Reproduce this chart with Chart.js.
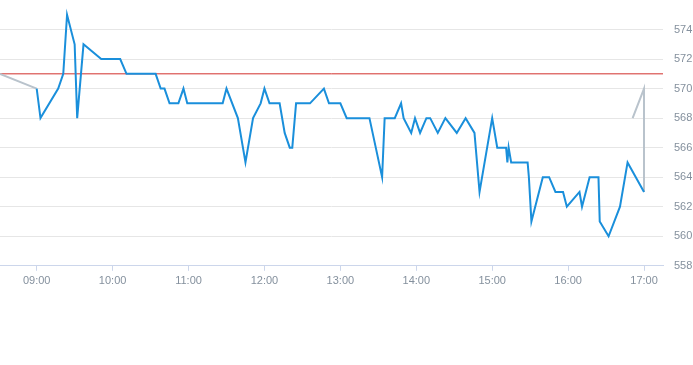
<!DOCTYPE html>
<html>
<head>
<meta charset="utf-8">
<script src="https://cdn.jsdelivr.net/npm/chart.js@4/dist/chart.umd.min.js"></script>
<style>
  html, body { margin: 0; padding: 0; background: #ffffff; overflow: hidden; }
  #wrap { position: relative; width: 693px; height: 365px; }
</style>
</head>
<body>
<div id="wrap"><canvas id="c"></canvas></div>
<script>
// ---- data ----
const blueTimes = ['09:00','09:03','09:17','09:21','09:24','09:30','09:32','09:37','09:51','10:06','10:11','10:34','10:38','10:41','10:45','10:52','10:56','10:59','11:27','11:30','11:39','11:45','11:51','11:57','12:00','12:04','12:12','12:16','12:20','12:22','12:25','12:36','12:47','12:51','13:00','13:05','13:23','13:33','13:35','13:43','13:48','13:50','13:56','13:59','14:03','14:08','14:11','14:17','14:23','14:32','14:39','14:46','14:50','15:00','15:04','15:11','15:12','15:13','15:15','15:28','15:29','15:31','15:40','15:45','15:50','15:56','15:59','16:09','16:11','16:17','16:24','16:25','16:32','16:41','16:47','17:00'];
const blueValues = [570,568,570,571,575,573,568,573,572,572,571,571,570,570,569,569,570,569,569,570,568,565,568,569,570,569,569,567,566,566,569,569,570,569,569,568,568,564,568,568,569,568,567,568,567,568,568,567,568,567,568,567,563,568,566,566,565,566,565,565,564,561,564,564,563,563,562,563,562,564,564,561,560,562,565,563];

const greyTimes = ['08:31','09:00','12:00','16:51','17:00','17:00'];
const greyValues = [571,570,null,568,570,563];

const refTimes = ['08:31','17:15'];
const refValues = [571,571];

const xTickLabels = ['09:00','10:00','11:00','12:00','13:00','14:00','15:00','16:00','17:00'];
const yTickLabels = [558,560,562,564,566,568,570,572,574];

// ---- helpers ----
const toMin = s => { const [h, m] = s.split(':').map(Number); return h * 60 + m; };
const fmt = v => String(Math.floor(v / 60)).padStart(2, '0') + ':' + String(v % 60).padStart(2, '0');
const pts = (ts, vs) => ts.map((t, i) => ({ x: toMin(t), y: vs[i] }));

const labelColor = '#84909d';
const font = { family: '"Liberation Sans", Arial, sans-serif', size: 11 };

new Chart(document.getElementById('c'), {
  type: 'line',
  data: {
    datasets: [
      { data: pts(blueTimes, blueValues), borderColor: '#1a8fdb', borderWidth: 2, order: 1 },
      { data: pts(greyTimes, greyValues), borderColor: '#b9c3cc', borderWidth: 2, spanGaps: false, order: 2 },
      { data: pts(refTimes, refValues), borderColor: '#d2302c', borderWidth: 1, order: 3 }
    ]
  },
  options: {
    responsive: true,
    maintainAspectRatio: false,
    animation: false,
    parsing: false,
    normalized: true,
    layout: { autoPadding: false, padding: { left: 0, right: 0, top: 0, bottom: 73 } },
    elements: { point: { radius: 0, hoverRadius: 0 }, line: { tension: 0, borderJoinStyle: 'miter', borderCapStyle: 'butt' } },
    plugins: { legend: { display: false }, tooltip: { enabled: false } },
    scales: {
      x: {
        type: 'linear',
        min: toMin(refTimes[0]),
        max: toMin(refTimes[1]),
        afterBuildTicks: axis => { axis.ticks = xTickLabels.map(l => ({ value: toMin(l) })); },
        afterFit: axis => { axis.paddingLeft = 0; axis.paddingRight = 0; },
        ticks: { callback: v => fmt(v), color: labelColor, font, padding: 4, maxRotation: 0, autoSkip: false },
        grid: { drawOnChartArea: false, drawTicks: true, tickLength: 5, color: '#ccd6eb', lineWidth: 1 },
        border: { display: true, color: '#ccd6eb', width: 1 }
      },
      y: {
        position: 'right',
        min: 558,
        max: 576,
        afterBuildTicks: axis => { axis.ticks = yTickLabels.map(v => ({ value: v })); },
        afterFit: axis => { axis.width = 30; axis.paddingTop = 0; axis.paddingBottom = 0; },
        ticks: { color: labelColor, font, padding: 11 },
        grid: { color: '#e6e6e6', lineWidth: 1, drawTicks: false },
        border: { display: false }
      }
    }
  }
});
</script>
</body>
</html>
